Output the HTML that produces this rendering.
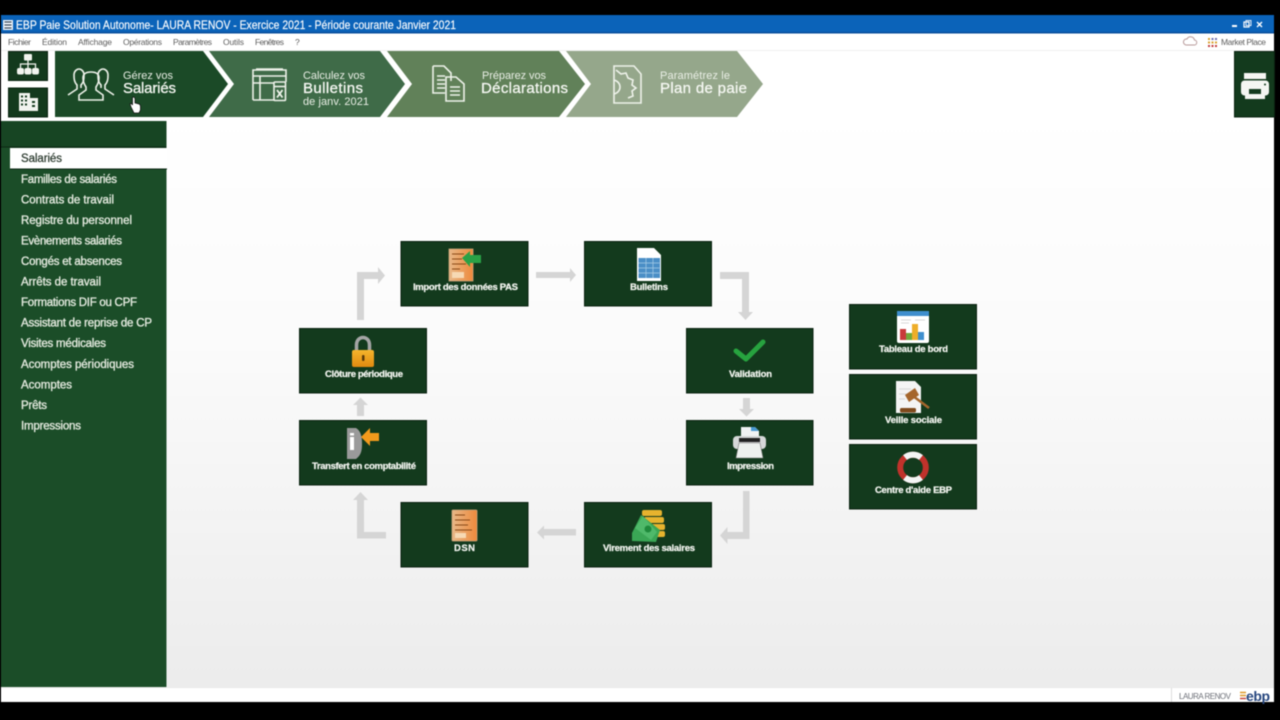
<!DOCTYPE html>
<html lang="fr"><head><meta charset="utf-8"><title>EBP Paie</title>
<style>
html,body{margin:0;padding:0;background:#000;width:1280px;height:720px;overflow:hidden}
svg{display:block;filter:blur(.55px)}
text{font-family:"Liberation Sans",sans-serif}
.menu{font-size:8.5px;fill:#5e5e5e}
.side{font-size:11.5px;fill:#e3e9de;stroke:#e3e9de;stroke-width:.35}
.node{fill:#133a1d;stroke:#0a2210;stroke-width:1}
.lab{font-size:9.5px;font-weight:bold;fill:#f2f4ef;stroke:#f2f4ef;stroke-width:.25}
.t1{font-size:11px;fill:#e9eee5}
.t2{font-size:15px;fill:#f5f7f2;stroke:#f5f7f2;stroke-width:.3}
.arr{fill:#d5d5d5}
.ico{fill:none;stroke:#eef2ea;stroke-width:1.6}
</style></head><body>
<svg width="1280" height="720" viewBox="0 0 1280 720" xmlns="http://www.w3.org/2000/svg">
<defs>
<linearGradient id="bg" x1="0" y1="0" x2="0" y2="1"><stop offset="0" stop-color="#fff"/><stop offset=".4" stop-color="#fbfbfb"/><stop offset="1" stop-color="#ececec"/></linearGradient>
<linearGradient id="or" x1="0" y1="0" x2="1" y2="0"><stop offset="0" stop-color="#e8b888"/><stop offset="1" stop-color="#ee8a3c"/></linearGradient>
<linearGradient id="lk" x1="0" y1="0" x2="0" y2="1"><stop offset="0" stop-color="#f5b52c"/><stop offset="1" stop-color="#e08a10"/></linearGradient>
</defs>
<rect width="1280" height="720" fill="#000"/>
<rect x="1" y="15" width="1273" height="687" fill="#fff"/>
<rect x="1" y="15" width="1273" height="18" fill="#0b63b9"/>
<rect x="1" y="32" width="1273" height="1.5" fill="#0a4f9c"/>
<rect x="167" y="118" width="1107" height="569" fill="url(#bg)"/>
<rect x="1" y="50" width="1273" height="1" fill="#f0f0f0"/>

<!-- title bar -->
<rect x="3" y="20" width="10" height="10" fill="#e8eef5"/>
<path d="M4.500 22h7M4.500 25h7M4.500 28h7" stroke="#234" stroke-width="1"/>
<text x="16" y="29" font-size="12" fill="#fff" stroke="#fff" stroke-width=".15" textLength="440" lengthAdjust="spacingAndGlyphs">EBP Paie Solution Autonome- LAURA RENOV - Exercice 2021 - Période courante Janvier 2021</text>
<rect x="1232" y="25" width="5" height="2" fill="#fff"/>
<rect x="1244" y="22" width="5" height="5" fill="none" stroke="#fff" stroke-width="1.200"/>
<rect x="1246" y="20.500" width="5" height="5" fill="none" stroke="#dfe9f5" stroke-width="1"/>
<path d="M1257 22l5 5M1262 22l-5 5" stroke="#fff" stroke-width="1.400"/>

<!-- menu -->
<text class="menu" x="8" y="45" textLength="23">Fichier</text>
<text class="menu" x="42" y="45" textLength="25">Édition</text>
<text class="menu" x="78" y="45" textLength="34">Affichage</text>
<text class="menu" x="123" y="45" textLength="39">Opérations</text>
<text class="menu" x="173" y="45" textLength="39">Paramètres</text>
<text class="menu" x="223" y="45" textLength="21">Outils</text>
<text class="menu" x="255" y="45" textLength="29">Fenêtres</text>
<text class="menu" x="295" y="45">?</text>
<path d="M1186 45h8a2.500 2.500 0 0 0 .5-5 4 4 0 0 0-7.500-1 3 3 0 0 0-1 6z" fill="none" stroke="#b89a9a" stroke-width="1"/>
<g fill="#d9a02c"><rect x="1208" y="38" width="2" height="2"/><rect x="1211.500" y="38" width="2" height="2" fill="#6d6fb0"/><rect x="1215" y="38" width="2" height="2" fill="#6d6fb0"/><rect x="1208" y="41.500" width="2" height="2"/><rect x="1211.500" y="41.500" width="2" height="2"/><rect x="1215" y="41.500" width="2" height="2"/><rect x="1208" y="45" width="2" height="2" fill="#c23b3b"/><rect x="1211.500" y="45" width="2" height="2" fill="#c23b3b"/><rect x="1215" y="45" width="2" height="2" fill="#c23b3b"/></g>
<text class="menu" x="1221" y="45" textLength="45">Market Place</text>

<!-- small buttons -->
<rect x="8.500" y="51.500" width="39" height="29" fill="#133a1d" stroke="#0a2210"/>
<rect x="8.500" y="88" width="39" height="29" fill="#133a1d" stroke="#0a2210"/>
<g fill="#f2f4ef"><rect x="24" y="54" width="8" height="6.500" rx="1"/><rect x="17" y="68" width="7" height="6.500" rx="2"/><rect x="24.500" y="68" width="7" height="6.500" rx="2"/><rect x="32" y="68" width="7" height="6.500" rx="2"/></g>
<path d="M28 60v8M20.500 68v-4h15v4" stroke="#f2f4ef" stroke-width="1.300" fill="none"/>
<g fill="#f2f4ef"><rect x="19" y="93" width="11" height="18"/><rect x="30" y="98" width="8" height="13"/></g>
<g fill="#133a1d"><rect x="21" y="95.500" width="2" height="2"/><rect x="25" y="95.500" width="2" height="2"/><rect x="21" y="99.500" width="2" height="2"/><rect x="25" y="99.500" width="2" height="2"/><rect x="21" y="103.500" width="2" height="2"/><rect x="25" y="103.500" width="2" height="2"/><rect x="32" y="101" width="3" height="2"/><rect x="32" y="105" width="3" height="2"/></g>

<!-- chevrons -->
<polygon points="55,51 203,51 228,84 203,117 55,117" fill="#1b4a27"/>
<polygon points="209,51 380,51 405,84 380,117 209,117 234,84" fill="#3f6b48"/>
<polygon points="387,51 559,51 585,84 559,117 387,117 412,84" fill="#618159"/>
<polygon points="566,51 737,51 763,84 737,117 566,117 591,84" fill="#95a78b"/>

<!-- people icon -->
<g class="ico">
<path d="M68 95l9-6v-4c-3-3-3-7-3-10 0-4 3-6 5-6s5 2 5 6c0 3 0 7-3 10v3"/>
<path d="M114 95l-9-6v-4c3-3 3-7 3-10 0-4-3-6-5-6s-5 2-5 6c0 3 0 7 3 10v3"/>
<path d="M79 100v-5l7-5v-3c-2-3-3-6-3-9 0-4 3-6 8-6s8 2 8 6c0 3-1 6-3 9v3l7 5v5z"/>
</g>
<!-- bulletins icon -->
<g class="ico">
<path d="M253 100V70h33v12M256 69h27"/><path d="M253 76h33M260 76v24M253 100h21"/><path d="M253 83h21"/>
<rect x="274" y="82" width="11.500" height="18.500" rx="1"/><path d="M274 86.500h11.500"/>
</g>
<path d="M277 90l5.500 7.500M282.500 90l-5.500 7.500" stroke="#eef2ea" stroke-width="1.800"/>
<!-- declarations icon -->
<g class="ico" stroke-width="1.300">
<path d="M433 66h11l7 7v8M433 66v27h12"/><path d="M446 77h10l8 7v17h-18z"/>
<path d="M437 76h8M437 80h8M437 84h8M437 88h8M450 87h10M450 91h10M450 95h10"/>
</g>
<!-- plan icon -->
<g class="ico" stroke-width="1.300">
<path d="M614 66h20l7 8v29h-27z"/>
<path d="M616 70l5 4 5-1 2 5 5 2-1 5 4 3-4 3 1 5-5 2M614 80c4 1 6 4 6 7s-2 6-6 7"/>
</g>

<!-- chevron texts -->
<text class="t1" x="123" y="79" textLength="50">Gérez vos</text>
<text class="t2" x="123" y="93" textLength="53">Salariés</text>
<text class="t1" x="303" y="79" textLength="62">Calculez vos</text>
<text class="t2" x="303" y="93" textLength="60">Bulletins</text>
<text class="t1" x="303" y="105" textLength="66">de janv. 2021</text>
<text class="t1" x="482" y="79" textLength="64">Préparez vos</text>
<text class="t2" x="481" y="93" textLength="87">Déclarations</text>
<text class="t1" x="660" y="79" textLength="70">Paramétrez le</text>
<text class="t2" x="660" y="93" textLength="87">Plan de paie</text>
<!-- cursor -->
<path d="M132.500 97.500c1-1 2.500 0 2.500 1.500v4l4 1c1.500.5 1.500 2 1.500 3v3l-1.500 3h-5l-3-6-1-3c1-1 2 0 2.500 1z" fill="#fff" stroke="#111" stroke-width=".8"/>

<!-- right printer -->
<rect x="1234.500" y="51.500" width="40" height="65.500" fill="#133a1d" stroke="#0a2210"/>
<g fill="#f5f6f2"><path d="M1244 73h22v6h-22z"/><rect x="1241" y="80.500" width="28" height="15" rx="3.500"/><path d="M1245 93h20v6h-20z"/></g>
<rect x="1249" y="89" width="12" height="5" fill="#133a1d"/>
<circle cx="1265" cy="84.500" r="1" fill="#133a1d"/>

<!-- sidebar -->
<rect x="1" y="121" width="165.500" height="566" fill="#1b4d28"/>
<rect x="1" y="121" width="165.500" height="26" fill="#174523"/>
<rect x="1" y="146.500" width="165.500" height="1" fill="#0c2613"/>
<rect x="10" y="148" width="157" height="20.500" fill="#fff"/>
<rect x="10" y="168.500" width="157" height="1" fill="#0c2613"/>
<text x="21" y="162" font-size="11.500" fill="#2b3a2e" stroke="#2b3a2e" stroke-width=".25" textLength="41">Salariés</text>
<text class="side" x="21" y="183" textLength="96">Familles de salariés</text>
<text class="side" x="21" y="203.500" textLength="93">Contrats de travail</text>
<text class="side" x="21" y="224" textLength="111">Registre du personnel</text>
<text class="side" x="21" y="244.500" textLength="101">Evènements salariés</text>
<text class="side" x="21" y="265" textLength="101">Congés et absences</text>
<text class="side" x="21" y="285.500" textLength="80">Arrêts de travail</text>
<text class="side" x="21" y="306" textLength="116">Formations DIF ou CPF</text>
<text class="side" x="21" y="326.500" textLength="131">Assistant de reprise de CP</text>
<text class="side" x="21" y="347" textLength="85">Visites médicales</text>
<text class="side" x="21" y="368" textLength="113">Acomptes périodiques</text>
<text class="side" x="21" y="388.500" textLength="51">Acomptes</text>
<text class="side" x="21" y="409" textLength="26">Prêts</text>
<text class="side" x="21" y="429.500" textLength="60">Impressions</text>

<!-- arrows -->
<g class="arr">
<path d="M357 320V272h21v-5l7 8.500-7 8.500v-5h-14v41z"/>
<path d="M536 272h34v-4l6 7-6 7v-4h-34z"/>
<path d="M720 272h29v40h4l-7.500 8-7.500-8h4v-33h-22z"/>
<path d="M743 398h7v11h4l-7.500 7.500-7.500-7.500h4z"/>
<path d="M743 491h6.500v48h-22v5l-7.500-8.500 7.500-8.500v5h15.500z"/>
<path d="M576 529v6.500h-32v4l-7-7 7-7v3.500z"/>
<path d="M357 538.500V500h-4l7.500-8 7.500 8h-4v32h22v6.500z"/>
<path d="M357 416v-11h-4l7.500-7.500 7.500 7.500h-4v11z"/>
</g>

<!-- nodes -->
<rect class="node" x="401" y="241.500" width="127" height="64.500"/>
<rect class="node" x="584.500" y="241.500" width="127" height="64.500"/>
<rect class="node" x="686.500" y="328.500" width="126.500" height="64.500"/>
<rect class="node" x="686.500" y="420.500" width="126.500" height="64.500"/>
<rect class="node" x="584.500" y="502.500" width="127" height="64.500"/>
<rect class="node" x="401" y="502.500" width="127" height="64.500"/>
<rect class="node" x="299.500" y="420.500" width="127" height="64.500"/>
<rect class="node" x="299.500" y="328.500" width="127" height="64.500"/>
<rect class="node" x="849.500" y="304.500" width="127" height="64.500"/>
<rect class="node" x="849.500" y="374.500" width="127" height="64.500"/>
<rect class="node" x="849.500" y="444.500" width="127" height="64.500"/>

<!-- import icon -->
<rect x="449" y="249" width="24" height="32" fill="url(#or)" stroke="#c9a27a" stroke-width=".8"/>
<path d="M452 254h12M452 259h10M452 264h14M452 269h8" stroke="#8a4a18" stroke-width="1"/><rect x="452" y="272" width="12" height="6" fill="#f6d9b4"/>
<path d="M462 258l8-7v4h11v8h-11v4z" fill="#2aa146"/>
<!-- bulletins -->
<path d="M637 248h17l7 7v26h-24z" fill="#fff"/>
<rect x="638.500" y="258" width="21.500" height="20" fill="#4a8ec6"/>
<path d="M638.500 263h21M638.500 268h21M638.500 273h21M646 258v20M653 258v20" stroke="#a9cde8" stroke-width=".7"/>
<!-- lock -->
<path d="M356.500 351v-6c0-10 13-10 13 0v6" fill="none" stroke="#a5a5a5" stroke-width="3.500"/>
<rect x="352" y="350" width="22" height="17" rx="2" fill="url(#lk)"/>
<rect x="362" y="355" width="2.500" height="6" rx="1" fill="#5b3a08"/>
<!-- check -->
<path d="M736 351l10 8 17-17" fill="none" stroke="#27a33f" stroke-width="5" stroke-linecap="round" stroke-linejoin="round"/>
<!-- printer -->
<path d="M741 427h14l4 4v9h-18z" fill="#f1f3f3"/>
<path d="M751 427h4l4 4h-8z" fill="#4a9ad0"/>
<rect x="733" y="436" width="33" height="13" rx="4" fill="#d6d8d8"/>
<rect x="739" y="438" width="21" height="4" fill="#222"/>
<path d="M739 443h21l3 15h-27z" fill="#eef1ee" stroke="#777" stroke-width=".6"/>
<!-- transfert -->
<path d="M347 428h9c5 3 6 9 6 16s-1 11-6 15h-9z" fill="#9a9a9a"/>
<rect x="350" y="437" width="4" height="13" fill="#fff"/><rect x="350" y="433" width="4" height="2.500" fill="#fff"/>
<path d="M361 437l9-9v5h9v8h-9v5z" fill="#f39a1c"/>
<!-- dsn -->
<rect x="452" y="510" width="25" height="31" rx="1" fill="url(#or)" stroke="#c9a27a" stroke-width=".8"/>
<path d="M455 515h10M455 520h15M455 525h13M455 530h17" stroke="#8a4a18" stroke-width="1"/><rect x="455" y="533" width="11" height="5" fill="#f6d9b4"/>
<!-- virement -->
<g fill="#e7b32e"><rect x="642" y="510" width="20" height="6" rx="2"/><rect x="644" y="517" width="20" height="6" rx="2"/><rect x="645" y="524" width="20" height="6" rx="2"/><rect x="646" y="531" width="19" height="6" rx="2"/></g>
<path d="M632 533l9-18 19 15-4 12-24-1z" fill="#3aa655"/><path d="M635 528l8-12 14 16-6 8z" fill="#4fb96a"/>
<circle cx="648" cy="529" r="3.500" fill="#1f8a3c"/>
<!-- tableau -->
<rect x="897" y="311" width="32" height="32" rx="2" fill="#fff"/>
<rect x="897" y="311" width="32" height="5" fill="#3f8fce"/>
<rect x="900" y="329" width="6" height="11" fill="#c83a3a"/><rect x="906" y="333" width="6" height="7" fill="#72a83a"/><rect x="912" y="324" width="6" height="16" fill="#eeae2a"/><rect x="918" y="332" width="6" height="8" fill="#3f8fce"/>
<path d="M901 320h10M915 320h10M901 323h8" stroke="#ccc" stroke-width=".8"/>
<!-- veille -->
<path d="M896 381h19l6 6v26h-25z" fill="#f4f4f4"/>
<path d="M899 389h12M899 394h8M899 399h6" stroke="#ccc" stroke-width=".8"/>
<path d="M905 395l10-7 4 7-10 7z" fill="#a5662c"/>
<path d="M913 396l16 12" stroke="#a5662c" stroke-width="2.500"/>
<rect x="900" y="408" width="16" height="4.500" rx="1.500" fill="#7f4a1c"/>
<!-- centre -->
<circle cx="913" cy="467.500" r="12.800" fill="none" stroke="#c0322b" stroke-width="6"/>
<g fill="none" stroke="#f4f4f4" stroke-width="6.200">
<path d="M905 457.500a12.800 12.800 0 0 1 16 0"/><path d="M905 477.500a12.800 12.800 0 0 0 16 0"/>
</g>

<!-- labels -->
<text class="lab" x="413" y="290" textLength="105">Import des données PAS</text>
<text class="lab" x="630" y="290" textLength="38">Bulletins</text>
<text class="lab" x="325" y="377" textLength="78">Clôture périodique</text>
<text class="lab" x="729" y="377" textLength="43">Validation</text>
<text class="lab" x="727" y="469" textLength="47">Impression</text>
<text class="lab" x="312" y="469" textLength="104">Transfert en comptabilité</text>
<text class="lab" x="454" y="551" textLength="21">DSN</text>
<text class="lab" x="603" y="551" textLength="92">Virement des salaires</text>
<text class="lab" x="879" y="352" textLength="69">Tableau de bord</text>
<text class="lab" x="885" y="423" textLength="57">Veille sociale</text>
<text class="lab" x="875" y="493" textLength="77">Centre d'aide EBP</text>

<!-- status bar -->
<rect x="1" y="687" width="1273" height="15" fill="#fff"/>
<rect x="1" y="687" width="1273" height="1" fill="#e9e9e9"/>
<rect x="1171" y="688" width="1" height="14" fill="#dcdcdc"/>
<text x="1179" y="699" font-size="8" fill="#6d7078" textLength="52">LAURA RENOV</text>
<text x="1246" y="701" font-size="14" font-weight="bold" fill="#27477f" textLength="24">ebp</text>
<path d="M1240 692.500h6M1240 695.500h6" stroke="#e09a28" stroke-width="1.400"/><path d="M1240 698.500h6" stroke="#c43b32" stroke-width="1.400"/>
</svg>
</body></html>
